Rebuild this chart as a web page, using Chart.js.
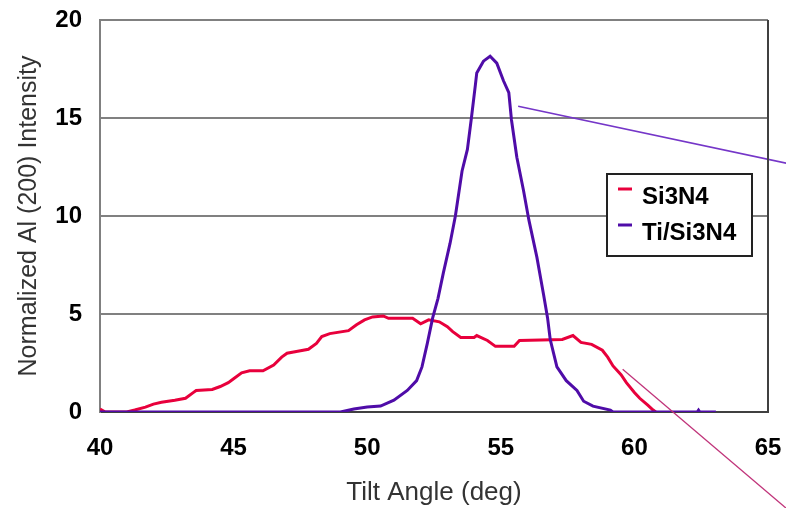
<!DOCTYPE html>
<html>
<head>
<meta charset="utf-8">
<script src="https://cdn.jsdelivr.net/npm/chart.js@4/dist/chart.umd.min.js"></script>
<style>
  html, body { margin: 0; padding: 0; background: #ffffff; }
  #wrap { width: 786px; height: 508px; position: relative; }
</style>
</head>
<body>
<div id="wrap"><canvas id="c" width="786" height="508"></canvas></div>
<script>
// Tilt-angle scans of the Al (200) reflection
const si3n4Angle = [40.0, 40.2, 41.0, 41.3, 41.7, 42.0, 42.3, 42.8, 43.2, 43.5, 43.6, 44.2, 44.5, 44.8, 45.0,
  45.3, 45.6, 46.1, 46.5, 46.8, 47.0, 47.4, 47.8, 48.1, 48.3, 48.6, 49.3, 49.6, 49.9, 50.2, 50.6, 50.8,
  51.7, 52.0, 52.3, 52.7, 53.0, 53.2, 53.5, 54.0, 54.1, 54.5, 54.8, 55.5, 55.7, 57.3, 57.7, 58.0, 58.4,
  58.8, 59.0, 59.2, 59.5, 59.7, 60.0, 60.2, 60.5, 60.7, 60.8];
const si3n4Intensity = [0.15, 0.0, 0.0, 0.1, 0.25, 0.4, 0.5, 0.6, 0.7, 1.0, 1.1, 1.15, 1.3, 1.5, 1.7,
  2.0, 2.1, 2.1, 2.4, 2.8, 3.0, 3.1, 3.2, 3.5, 3.85, 4.0, 4.15, 4.45, 4.7, 4.85, 4.9, 4.78,
  4.78, 4.5, 4.7, 4.6, 4.35, 4.1, 3.8, 3.8, 3.9, 3.65, 3.35, 3.35, 3.65, 3.7, 3.9, 3.55, 3.45,
  3.15, 2.8, 2.35, 1.9, 1.5, 1.0, 0.7, 0.35, 0.1, 0.0];

const tiAngle = [40.0, 49.0, 49.5, 50.0, 50.5, 51.0, 51.5, 51.85, 52.05, 52.25, 52.45, 52.65, 52.85, 53.1,
  53.3, 53.55, 53.75, 53.9, 54.05, 54.1, 54.35, 54.6, 54.85, 55.1, 55.3, 55.4, 55.6, 55.85, 56.05,
  56.35, 56.6, 56.75, 56.85, 57.1, 57.45, 57.85, 58.1, 58.45, 59.1, 59.2, 62.35, 62.4, 62.45, 63.05];
const tiIntensity = [0.0, 0.0, 0.15, 0.25, 0.3, 0.6, 1.1, 1.6, 2.3, 3.5, 4.8, 5.8, 7.1, 8.6,
  10.0, 12.3, 13.4, 15.0, 16.7, 17.3, 17.9, 18.15, 17.8, 16.9, 16.3, 14.9, 13.0, 11.3, 9.8,
  7.9, 6.0, 4.8, 3.7, 2.3, 1.6, 1.1, 0.55, 0.3, 0.1, 0.0, 0.0, 0.1, 0.0, 0.0];

// Leader lines running off the plot to the right
const tiLeaderAngle = [55.65, 66.0];
const tiLeaderIntensity = [15.6, 12.6];
const si3n4LeaderAngle = [59.56, 66.0];
const si3n4LeaderIntensity = [2.18, -5.28];

const seriesLabels = ['Si3N4', 'Ti/Si3N4'];
const xTicks = [40, 45, 50, 55, 60, 65];
const yTicks = [0, 5, 10, 15, 20];

const RED = '#e8003c';
const VIOLET = '#4f0ca8';
const FONT = '"Liberation Sans", Arial, sans-serif';

const zip = (xs, ys) => xs.map((x, i) => ({ x: x, y: ys[i] }));

// Legend box drawn inside the plot
const boxLegend = {
  id: 'boxLegend',
  afterDatasetsDraw(chart) {
    const ctx = chart.ctx;
    const sets = chart.data.datasets.filter(d => !d.leader);
    const left = 607, top = 174, w = 145, h = 82;
    ctx.save();
    ctx.fillStyle = '#ffffff';
    ctx.fillRect(left, top, w, h);
    ctx.strokeStyle = '#222222';
    ctx.lineWidth = 2;
    ctx.strokeRect(left, top, w, h);
    ctx.font = 'bold 24px ' + FONT;
    ctx.textBaseline = 'middle';
    ctx.fillStyle = '#000000';
    sets.forEach((d, i) => {
      const cy = top + 23 + i * 36;
      ctx.strokeStyle = d.borderColor;
      ctx.lineWidth = 3;
      ctx.beginPath();
      ctx.moveTo(left + 11, cy - 8);
      ctx.lineTo(left + 25, cy - 8);
      ctx.stroke();
      ctx.fillText(d.label, left + 35, cy);
    });
    ctx.restore();
  }
};

// Frame line on the right edge of the plot
const rightFrame = {
  id: 'rightFrame',
  afterDraw(chart) {
    const { ctx, chartArea } = chart;
    ctx.save();
    ctx.strokeStyle = '#404040';
    ctx.lineWidth = 2;
    ctx.beginPath();
    ctx.moveTo(chartArea.right, chartArea.top);
    ctx.lineTo(chartArea.right, chartArea.bottom + 1);
    ctx.stroke();
    ctx.restore();
  }
};

new Chart(document.getElementById('c'), {
  type: 'line',
  data: {
    datasets: [
      { label: seriesLabels[0], data: zip(si3n4Angle, si3n4Intensity), borderColor: RED,
        borderWidth: 3, pointRadius: 0, tension: 0, order: 2 },
      { label: seriesLabels[1], data: zip(tiAngle, tiIntensity), borderColor: VIOLET,
        borderWidth: 3, pointRadius: 0, tension: 0, order: 1 },
      { label: 'leaderTi', leader: true, data: zip(tiLeaderAngle, tiLeaderIntensity),
        borderColor: '#7536c8', borderWidth: 1.6, pointRadius: 0, clip: false, order: 0 },
      { label: 'leaderSi', leader: true, data: zip(si3n4LeaderAngle, si3n4LeaderIntensity),
        borderColor: '#c0347a', borderWidth: 1.3, pointRadius: 0, clip: false, order: 0 }
    ]
  },
  options: {
    responsive: false,
    animation: false,
    devicePixelRatio: 1,
    layout: { padding: { top: 20, right: 18, left: 14, bottom: 0 } },
    plugins: { legend: { display: false }, tooltip: { enabled: false } },
    scales: {
      x: {
        type: 'linear', min: 40, max: 65,
        afterBuildTicks(s) { s.ticks = xTicks.map(v => ({ value: v })); },
        afterFit(s) { s.height = 96; s.paddingLeft = 0; s.paddingRight = 0; },
        grid: { display: false, drawTicks: false },
        border: { display: true, color: '#404040', width: 2 },
        ticks: { color: '#000', padding: 22, font: { family: FONT, size: 24, weight: 'bold' } },
        title: { display: true, text: 'Tilt Angle (deg)', color: '#333',
          font: { family: FONT, size: 26 }, padding: { top: 0, bottom: 0 } }
      },
      y: {
        type: 'linear', min: 0, max: 20,
        afterBuildTicks(s) { s.ticks = yTicks.map(v => ({ value: v })); },
        afterFit(s) { s.width = 86; s.paddingTop = 0; s.paddingBottom = 0; },
        grid: { color: '#808080', lineWidth: 2, drawTicks: false },
        border: { display: true, color: '#808080', width: 2 },
        ticks: { color: '#000', padding: 18, font: { family: FONT, size: 24, weight: 'bold' } },
        title: { display: true, text: 'Normalized Al (200) Intensity', color: '#333',
          font: { family: FONT, size: 25 }, padding: { top: 0, bottom: 0 } }
      }
    }
  },
  plugins: [boxLegend, rightFrame]
});
</script>
</body>
</html>
